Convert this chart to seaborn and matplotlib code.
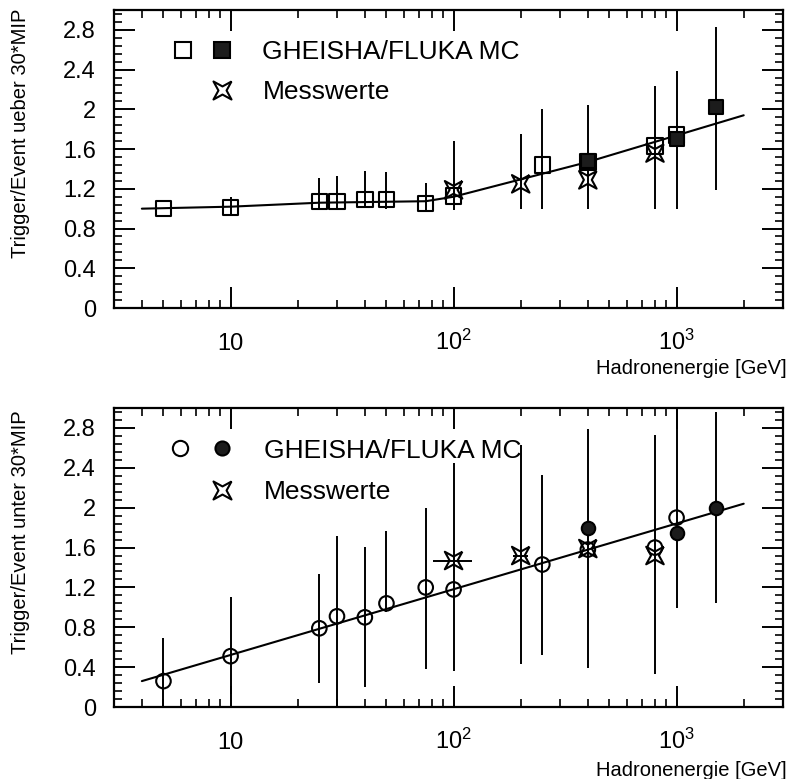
import matplotlib
matplotlib.use('Agg')
import matplotlib.pyplot as plt
from matplotlib.lines import Line2D
from matplotlib.legend_handler import HandlerTuple
from matplotlib.ticker import MultipleLocator, LogLocator, NullFormatter
import seaborn as sns
import pandas as pd

# ---- top panel: Trigger/Event ueber 30*MIP ----
top_open_e = [5, 10, 25, 30, 40, 50, 75, 100, 250, 400, 800, 1000]
top_open_v = [1.0, 1.01, 1.07, 1.07, 1.09, 1.09, 1.05, 1.13, 1.44, 1.47, 1.63, 1.74]
top_fill_e = [400, 1000, 1500]
top_fill_v = [1.48, 1.70, 2.02]
top_meas_e = [100, 200, 400, 800]
top_meas_v = [1.19, 1.25, 1.29, 1.56]
top_err_e = [10, 25, 30, 40, 50, 75, 100, 200, 250, 400, 800, 1000, 1500]
top_err_lo = [0.94, 0.99, 0.99, 1.02, 1.0, 0.97, 0.99, 1.0, 1.0, 1.0, 1.0, 1.0, 1.19]
top_err_hi = [1.12, 1.31, 1.33, 1.38, 1.37, 1.26, 1.68, 1.75, 2.0, 2.04, 2.23, 2.39, 2.83]
top_fit_e = [4, 10, 25, 75, 100, 400, 2000]
top_fit_v = [1.0, 1.02, 1.06, 1.075, 1.12, 1.47, 1.94]

# ---- bottom panel: Trigger/Event unter 30*MIP ----
bot_open_e = [5, 10, 25, 30, 40, 50, 75, 100, 250, 400, 800, 1000]
bot_open_v = [0.26, 0.51, 0.79, 0.91, 0.90, 1.04, 1.20, 1.18, 1.43, 1.58, 1.60, 1.90]
bot_fill_e = [400, 1000, 1500]
bot_fill_v = [1.80, 1.75, 2.0]
bot_meas_e = [100, 200, 400, 800]
bot_meas_v = [1.47, 1.52, 1.59, 1.52]
bot_meas_xlo = [81, 185, 400, 800]
bot_meas_xhi = [121, 215, 400, 800]
bot_err_e = [5, 10, 25, 30, 40, 50, 75, 100, 200, 250, 400, 800, 1000, 1500]
bot_err_lo = [0.0, 0.13, 0.24, 0.0, 0.2, 0.95, 0.38, 0.36, 0.43, 0.52, 0.39, 0.33, 0.99, 1.04]
bot_err_hi = [0.69, 1.10, 1.33, 1.72, 1.61, 1.77, 2.0, 2.45, 2.63, 2.33, 2.79, 2.73, 2.98, 2.96]
bot_fit_e = [4, 2000]
bot_fit_v = [0.26, 2.04]

xticks = [10, 100, 1000]
xtick_labels = ['10', r'$\mathregular{10^2}$', r'$\mathregular{10^3}$']

# concave four-pointed star as in the original plot
star = [(1, 1), (0, 0.45), (-1, 1), (-0.45, 0), (-1, -1), (0, -0.45), (1, -1), (0.45, 0), (1, 1)]

sns.set_theme(style='ticks')
plt.rcParams['font.family'] = ['Liberation Sans', 'DejaVu Sans']
plt.rcParams['axes.linewidth'] = 1.6
plt.rcParams['text.color'] = 'black'
plt.rcParams['axes.labelcolor'] = 'black'
plt.rcParams['axes.edgecolor'] = 'black'


def panel(ax, open_e, open_v, fill_e, fill_v, meas_e, meas_v, err_e, err_lo, err_hi,
          fit_e, fit_v, mk, ylabel, ylab_y, xlab_y):
    ax.set_xscale('log')
    ax.vlines(err_e, err_lo, err_hi, color='black', lw=1.4, zorder=1)
    sns.lineplot(x=fit_e, y=fit_v, color='black', lw=1.5, ax=ax, zorder=2)
    sz = 125 if mk == 's' else 110
    sns.scatterplot(x=open_e, y=open_v, marker=mk, s=sz, facecolors='none',
                    edgecolor='black', linewidth=1.5, ax=ax, zorder=3)
    sns.scatterplot(x=fill_e, y=fill_v, marker=mk, s=sz * 0.85, facecolors='#1c1c1c',
                    edgecolor='black', linewidth=1.5, ax=ax, zorder=3)
    sns.scatterplot(x=meas_e, y=meas_v, marker=star, s=160, facecolors='none',
                    edgecolor='black', linewidth=1.5, ax=ax, zorder=4)

    ax.set_xlim(3, 3000)
    ax.set_ylim(0, 3.0)
    ax.set_xticks(xticks, labels=xtick_labels, va='baseline')
    ax.xaxis.set_minor_locator(LogLocator(base=10, subs=range(2, 10)))
    ax.xaxis.set_minor_formatter(NullFormatter())
    ax.yaxis.set_major_locator(MultipleLocator(0.4))
    ax.yaxis.set_minor_locator(MultipleLocator(0.08))
    ax.yaxis.set_major_formatter(plt.FuncFormatter(lambda v, p: f'{v:.1f}'.rstrip('0').rstrip('.') if v else '0'))
    ax.tick_params(which='both', direction='in', top=True, right=True, colors='black')
    ax.tick_params(axis='x', which='major', length=15, width=1.4, pad=30, labelsize=17)
    ax.tick_params(axis='y', which='major', length=15, width=1.4, pad=13, labelsize=17)
    ax.tick_params(which='minor', length=6, width=1.2)

    ax.set_xlabel('Hadronenergie [GeV]', fontsize=14.5, ha='right', va='top')
    ax.xaxis.set_label_coords(1.006, xlab_y)
    ax.set_ylabel(ylabel, fontsize=14.5, va='bottom', ha='center')
    ax.yaxis.set_label_coords(-0.125, ylab_y)


fig = plt.figure(figsize=(7.9, 7.79), dpi=100)
ax1 = fig.add_axes([0.1443, 0.6046, 0.8468, 0.3826])
ax2 = fig.add_axes([0.1443, 0.0924, 0.8468, 0.3838])

panel(ax1, top_open_e, top_open_v, top_fill_e, top_fill_v, top_meas_e, top_meas_v,
      top_err_e, top_err_lo, top_err_hi, top_fit_e, top_fit_v, 's',
      'Trigger/Event ueber 30*MIP', 0.587, -0.172)
panel(ax2, bot_open_e, bot_open_v, bot_fill_e, bot_fill_v, bot_meas_e, bot_meas_v,
      bot_err_e, bot_err_lo, bot_err_hi, bot_fit_e, bot_fit_v, 'o',
      'Trigger/Event unter 30*MIP', 0.585, -0.18)
ax2.hlines(bot_meas_v, bot_meas_xlo, bot_meas_xhi, color='black', lw=1.4, zorder=1)

blank = Line2D([], [], ls='none', marker=None)
for ax, mk, ms, x0, hl, sp in [(ax1, 's', 12, 0.074, 2.95, 0.59), (ax2, 'o', 11, 0.067, 3.18, 0.66)]:
    h_open = Line2D([], [], ls='none', marker=mk, ms=ms, mfc='none', mec='black', mew=1.5)
    h_fill = Line2D([], [], ls='none', marker=mk, ms=ms * 0.92, mfc='#1c1c1c', mec='black', mew=1.5)
    h_star = Line2D([], [], ls='none', marker=star, ms=13, mfc='none', mec='black', mew=1.5)
    ax.legend([(h_open, h_fill), (blank, h_star)], ['GHEISHA/FLUKA MC', 'Messwerte'],
              handler_map={tuple: HandlerTuple(ndivide=None, pad=0)},
              loc='upper left', bbox_to_anchor=(x0, 0.898), borderaxespad=0, borderpad=0,
              frameon=False, fontsize=19, numpoints=1, handlelength=hl,
              handletextpad=0.8, labelspacing=sp)

fig.savefig('out.png', dpi=100)
